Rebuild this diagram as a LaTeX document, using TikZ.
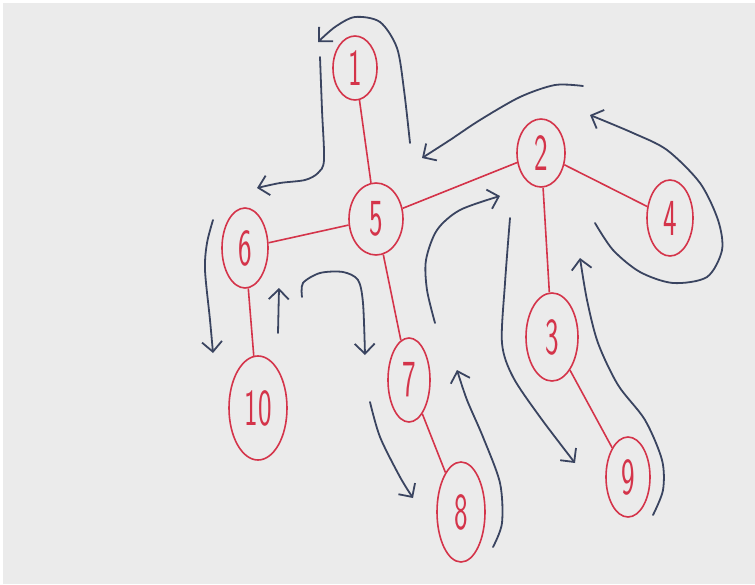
\documentclass[tikz,border=0pt]{standalone}
\usepackage{graphicx}
\usepackage{xcolor}
\usepackage{tikz}
\usetikzlibrary{arrows.meta,shapes.geometric}

\definecolor{inkred}{RGB}{212,52,74}
\definecolor{inkblue}{RGB}{58,68,96}
\definecolor{paper}{RGB}{235,235,235}
\newcommand{\hw}[1]{\scalebox{0.72}[1.3]{#1}}

\begin{document}
\begin{tikzpicture}[
  x=0.5pt, y=-0.5pt,
  nd/.style={ellipse, draw=inkred, line width=0.8pt, inner sep=0pt, text=inkred, font=\sffamily\fontsize{20}{20}\selectfont},
  ed/.style={draw=inkred, line width=0.8pt},
  tour/.style={draw=inkblue, line width=0.9pt, line cap=round, -{Straight Barb[length=5pt,width=10pt]}}
]
\fill[white] (0,0) rectangle (755,584);
\fill[paper] (3,3) rectangle (755,584);
\useasboundingbox (0,0) rectangle (755,584);

% tree
\node[nd, minimum width=22pt, minimum height=32pt] (n1)  at (355,68)  {\hw{1}};
\node[nd, minimum width=24pt, minimum height=34pt] (n2)  at (541,153) {\hw{2}};
\node[nd, minimum width=23pt, minimum height=38pt] (n4)  at (670,218) {\hw{4}};
\node[nd, minimum width=27pt, minimum height=36pt] (n5)  at (376,219) {\hw{5}};
\node[nd, minimum width=23pt, minimum height=40pt] (n6)  at (245,248) {\hw{6}};
\node[nd, minimum width=29pt, minimum height=52pt] (n10) at (258,408) {\hw{10}};
\node[nd, minimum width=21pt, minimum height=42pt] (n7)  at (409,380) {\hw{7}};
\node[nd, minimum width=24pt, minimum height=50pt] (n8)  at (461,512) {\hw{8}};
\node[nd, minimum width=26pt, minimum height=44pt] (n3)  at (552,337) {\hw{3}};
\node[nd, minimum width=22pt, minimum height=40pt] (n9)  at (628,477) {\hw{9}};

\draw[ed] (n1) -- (n5);
\draw[ed] (n5) -- (n6);
\draw[ed] (n5) -- (n2);
\draw[ed] (n5) -- (n7);
\draw[ed] (n6) -- (n10);
\draw[ed] (n7) -- (n8);
\draw[ed] (n2) -- (n4);
\draw[ed] (n2) -- (n3);
\draw[ed] (n3) -- (n9);

% euler tour
\draw[tour] plot[smooth] coordinates {(410,143) (404,90) (397,48) (380,22) (355,17) (335,27) (318,42)};
\draw[tour] plot[smooth] coordinates {(320,57) (322,110) (324,160) (318,173) (305,180) (280,183) (257,188)};
\draw[tour] plot[smooth] coordinates {(213,220) (207,243) (205,270) (210,320) (213,353)};
\draw[tour] (278,333) -- (279,288);
\draw[tour] plot[smooth] coordinates {(302,297) (303,283) (320,273) (343,272) (358,280) (363,303) (365,355)};
\draw[tour] plot[smooth] coordinates {(370,402) (380,437) (400,477) (413,498)};
\draw[tour] plot[smooth] coordinates {(493,547) (502,523) (500,483) (483,437) (467,400) (457,370)};
\draw[tour] plot[smooth] coordinates {(435,323) (427,290) (426,260) (437,230) (460,210) (500,196)};
\draw[tour] plot[smooth] coordinates {(510,218) (505,283) (502,343) (513,377) (540,417) (575,463)};
\draw[tour] plot[smooth] coordinates {(653,515) (663,490) (662,460) (645,420) (618,385) (598,343) (587,300) (580,258)};
\draw[tour] plot[smooth] coordinates {(595,223) (613,250) (640,272) (673,283) (707,277) (722,250) (718,220) (700,183) (667,150) (633,133) (590,115)};
\draw[tour] plot[smooth] coordinates {(583,86) (555,85) (520,97) (480,120) (450,140) (422,158)};
\end{tikzpicture}
\end{document}
